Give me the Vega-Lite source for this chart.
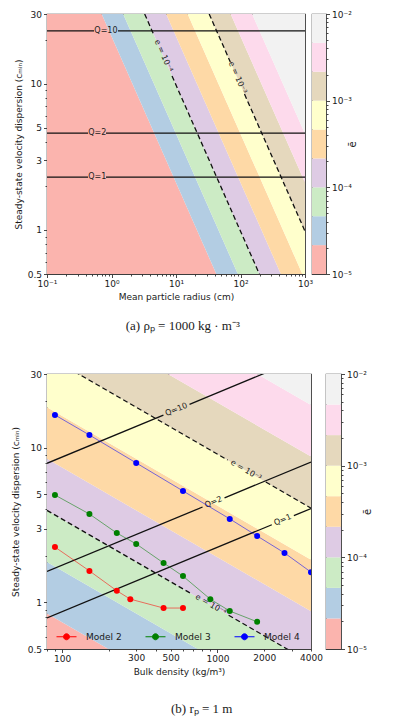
{
  "$schema": "https://vega.github.io/schema/vega-lite/v6.json",
  "background": "white",
  "padding": {"left": 10, "top": 9, "right": 0, "bottom": 0},
  "config": {
    "font": "DejaVu Sans",
    "view": {"stroke": "#3c3c3c", "strokeWidth": 1.2},
    "axis": {
      "domain": false,
      "grid": false,
      "labelFont": "DejaVu Sans",
      "labelFontSize": 9,
      "labelColor": "#1a1a1a",
      "titleFont": "DejaVu Sans",
      "titleFontSize": 9,
      "titleFontWeight": "normal",
      "titleColor": "#1a1a1a",
      "tickColor": "#333333",
      "tickWidth": 0.9,
      "labelFlush": false,
      "labelOverlap": false,
      "labelPadding": 2,
      "titlePadding": 4
    },
    "legend": {"labelFont": "DejaVu Sans", "labelColor": "#1a1a1a"}
  },
  "datasets": {
    "bandsA": [
      {"band": 0, "c": 30, "rlo": 0.001, "rhi": 0.704}, {"band": 0, "c": 0.5, "rlo": 0.001, "rhi": 42.2},
      {"band": 1, "c": 30, "rlo": 0.704, "rhi": 1.517}, {"band": 1, "c": 0.5, "rlo": 42.2, "rhi": 91.0},
      {"band": 2, "c": 30, "rlo": 1.517, "rhi": 3.268}, {"band": 2, "c": 0.5, "rlo": 91.0, "rhi": 196.1},
      {"band": 3, "c": 30, "rlo": 3.268, "rhi": 7.04}, {"band": 3, "c": 0.5, "rlo": 196.1, "rhi": 422.4},
      {"band": 4, "c": 30, "rlo": 7.04, "rhi": 15.17}, {"band": 4, "c": 0.5, "rlo": 422.4, "rhi": 910},
      {"band": 5, "c": 30, "rlo": 15.17, "rhi": 32.68}, {"band": 5, "c": 0.5, "rlo": 910, "rhi": 1961},
      {"band": 6, "c": 30, "rlo": 32.68, "rhi": 70.4}, {"band": 6, "c": 0.5, "rlo": 1961, "rhi": 4224},
      {"band": 7, "c": 30, "rlo": 70.4, "rhi": 151.7}, {"band": 7, "c": 0.5, "rlo": 4224, "rhi": 9102},
      {"band": 8, "c": 30, "rlo": 151.7, "rhi": 1000000}, {"band": 8, "c": 0.5, "rlo": 9102, "rhi": 1000000}
    ],
    "bandsB": [
      {"band": 0, "rho": 80, "clo": 0.001, "chi": 0.848}, {"band": 0, "rho": 4000, "clo": 0.001, "chi": 0.0877},
      {"band": 1, "rho": 80, "clo": 0.848, "chi": 1.827}, {"band": 1, "rho": 4000, "clo": 0.0877, "chi": 0.189},
      {"band": 2, "rho": 80, "clo": 1.827, "chi": 3.937}, {"band": 2, "rho": 4000, "clo": 0.189, "chi": 0.407},
      {"band": 3, "rho": 80, "clo": 3.937, "chi": 8.48}, {"band": 3, "rho": 4000, "clo": 0.407, "chi": 0.877},
      {"band": 4, "rho": 80, "clo": 8.48, "chi": 18.27}, {"band": 4, "rho": 4000, "clo": 0.877, "chi": 1.890},
      {"band": 5, "rho": 80, "clo": 18.27, "chi": 39.37}, {"band": 5, "rho": 4000, "clo": 1.890, "chi": 4.07},
      {"band": 6, "rho": 80, "clo": 39.37, "chi": 84.8}, {"band": 6, "rho": 4000, "clo": 4.07, "chi": 8.77},
      {"band": 7, "rho": 80, "clo": 84.8, "chi": 182.7}, {"band": 7, "rho": 4000, "clo": 8.77, "chi": 18.9},
      {"band": 8, "rho": 80, "clo": 182.7, "chi": 10000}, {"band": 8, "rho": 4000, "clo": 18.9, "chi": 10000}
    ],
    "cbar": [
      {"band": 0, "lo": 0.00001, "hi": 0.00002154},
      {"band": 1, "lo": 0.00002154, "hi": 0.00004642},
      {"band": 2, "lo": 0.00004642, "hi": 0.0001},
      {"band": 3, "lo": 0.0001, "hi": 0.0002154},
      {"band": 4, "lo": 0.0002154, "hi": 0.0004642},
      {"band": 5, "lo": 0.0004642, "hi": 0.001},
      {"band": 6, "lo": 0.001, "hi": 0.002154},
      {"band": 7, "lo": 0.002154, "hi": 0.004642},
      {"band": 8, "lo": 0.004642, "hi": 0.01}
    ],
    "qA": [
      {"seg": "Q10a", "r": 0.1, "c": 23}, {"seg": "Q10a", "r": 0.536, "c": 23},
      {"seg": "Q10b", "r": 1.26, "c": 23}, {"seg": "Q10b", "r": 1000, "c": 23},
      {"seg": "Q2a", "r": 0.1, "c": 4.6}, {"seg": "Q2a", "r": 0.433, "c": 4.6},
      {"seg": "Q2b", "r": 0.822, "c": 4.6}, {"seg": "Q2b", "r": 1000, "c": 4.6},
      {"seg": "Q1a", "r": 0.1, "c": 2.3}, {"seg": "Q1a", "r": 0.433, "c": 2.3},
      {"seg": "Q1b", "r": 0.822, "c": 2.3}, {"seg": "Q1b", "r": 1000, "c": 2.3}
    ],
    "eA": [
      {"seg": "e4a", "r": 3.268, "c": 30}, {"seg": "e4a", "r": 4.60, "c": 21.3},
      {"seg": "e4b", "r": 8.68, "c": 11.3}, {"seg": "e4b", "r": 196.1, "c": 0.5},
      {"seg": "e3a", "r": 32.68, "c": 30}, {"seg": "e3a", "r": 69.5, "c": 14.1},
      {"seg": "e3b", "r": 115.3, "c": 8.5}, {"seg": "e3b", "r": 1961, "c": 0.5}
    ],
    "qLabA": [
      {"text": "Q=10", "r": 0.82, "c": 23},
      {"text": "Q=2", "r": 0.6, "c": 4.6},
      {"text": "Q=1", "r": 0.6, "c": 2.3}
    ],
    "eLabA": [
      {"text": "e = 10⁻⁴", "r": 6.33, "c": 15.5},
      {"text": "e = 10⁻³", "r": 89, "c": 11}
    ],
    "qB": [
      {"seg": "Q10a", "rho": 80, "c": 7.94}, {"seg": "Q10a", "rho": 449, "c": 16.28},
      {"seg": "Q10b", "rho": 661, "c": 19.11}, {"seg": "Q10b", "rho": 4000, "c": 40.4},
      {"seg": "Q2a", "rho": 80, "c": 1.588}, {"seg": "Q2a", "rho": 802, "c": 4.14},
      {"seg": "Q2b", "rho": 1111, "c": 4.75}, {"seg": "Q2b", "rho": 4000, "c": 8.08},
      {"seg": "Q1a", "rho": 80, "c": 0.794}, {"seg": "Q1a", "rho": 2239, "c": 3.18},
      {"seg": "Q1b", "rho": 3103, "c": 3.64}, {"seg": "Q1b", "rho": 4000, "c": 4.04}
    ],
    "eB": [
      {"seg": "e3a", "rho": 80, "c": 39.4}, {"seg": "e3a", "rho": 1164, "c": 8.33},
      {"seg": "e3b", "rho": 2047, "c": 6.01}, {"seg": "e3b", "rho": 4000, "c": 4.07},
      {"seg": "e4a", "rho": 80, "c": 3.937}, {"seg": "e4a", "rho": 691, "c": 1.127},
      {"seg": "e4b", "rho": 1180, "c": 0.826}, {"seg": "e4b", "rho": 4000, "c": 0.407}
    ],
    "qLabB": [
      {"text": "Q=10", "rho": 544, "c": 17.6},
      {"text": "Q=2", "rho": 944, "c": 4.44},
      {"text": "Q=1", "rho": 2637, "c": 3.40}
    ],
    "eLabB": [
      {"text": "e = 10⁻³", "rho": 1521, "c": 7.12},
      {"text": "e = 10⁻⁴", "rho": 904, "c": 0.963}
    ],
    "models": [
      {"model": "Model 2", "rho": 90, "c": 2.28}, {"model": "Model 2", "rho": 150, "c": 1.60},
      {"model": "Model 2", "rho": 225, "c": 1.19}, {"model": "Model 2", "rho": 275, "c": 1.05},
      {"model": "Model 2", "rho": 450, "c": 0.92}, {"model": "Model 2", "rho": 600, "c": 0.92},
      {"model": "Model 3", "rho": 90, "c": 4.95}, {"model": "Model 3", "rho": 150, "c": 3.73},
      {"model": "Model 3", "rho": 225, "c": 2.81}, {"model": "Model 3", "rho": 300, "c": 2.39},
      {"model": "Model 3", "rho": 450, "c": 1.80}, {"model": "Model 3", "rho": 600, "c": 1.48},
      {"model": "Model 3", "rho": 900, "c": 1.05}, {"model": "Model 3", "rho": 1200, "c": 0.88},
      {"model": "Model 3", "rho": 1800, "c": 0.75},
      {"model": "Model 4", "rho": 90, "c": 16.3}, {"model": "Model 4", "rho": 150, "c": 12.1},
      {"model": "Model 4", "rho": 300, "c": 7.98}, {"model": "Model 4", "rho": 600, "c": 5.26},
      {"model": "Model 4", "rho": 1200, "c": 3.47}, {"model": "Model 4", "rho": 1800, "c": 2.69},
      {"model": "Model 4", "rho": 2700, "c": 2.09}, {"model": "Model 4", "rho": 4000, "c": 1.57}
    ]
  },
  "spacing": 35,
  "vconcat": [
    {
      "bounds": "flush",
      "spacing": 7,
      "title": {"text": "(a) ρₚ = 1000 kg · m⁻³", "orient": "bottom", "anchor": "middle", "font": "Liberation Serif", "fontSize": 13, "fontWeight": "normal", "color": "#1a1a1a", "offset": 18, "dx": -3},
      "hconcat": [
        {
          "width": 258,
          "height": 260,
          "encoding": {
            "x": {"field": "r", "type": "quantitative", "scale": {"type": "log", "domain": [0.1, 1000], "nice": false},
              "axis": {"title": "Mean particle radius (cm)",
                "values": [0.1, 0.2, 0.3, 0.4, 0.5, 0.6, 0.7, 0.8, 0.9, 1, 2, 3, 4, 5, 6, 7, 8, 9, 10, 20, 30, 40, 50, 60, 70, 80, 90, 100, 200, 300, 400, 500, 600, 700, 800, 900, 1000],
                "labelExpr": "datum.value == 0.1 ? '10⁻¹' : datum.value == 1 ? '10⁰' : datum.value == 10 ? '10¹' : datum.value == 100 ? '10²' : datum.value == 1000 ? '10³' : ''",
                "tickSize": {"condition": {"test": "indexof([0.1, 1, 10, 100, 1000], datum.value) >= 0", "value": 3.5}, "value": 2}}},
            "y": {"field": "c", "type": "quantitative", "scale": {"type": "log", "domain": [0.5, 30], "nice": false},
              "axis": {"title": "Steady-state velocity dispersion (cₘᵢₙ)",
                "values": [0.5, 0.6, 0.7, 0.8, 0.9, 1, 2, 3, 4, 5, 6, 7, 8, 9, 10, 20, 30],
                "labelExpr": "indexof([0.5, 1, 3, 5, 10, 30], datum.value) >= 0 ? format(datum.value, '~g') : ''",
                "tickSize": {"condition": {"test": "indexof([0.5, 1, 3, 5, 10, 30], datum.value) >= 0", "value": 3.5}, "value": 2}}}
          },
          "layer": [
            {
              "data": {"name": "bandsA"},
              "mark": {"type": "area", "orient": "horizontal", "clip": true},
              "encoding": {
                "x": {"field": "rlo", "type": "quantitative", "stack": null},
                "x2": {"field": "rhi"},
                "fill": {"field": "band", "type": "ordinal", "scale": {"domain": [0, 1, 2, 3, 4, 5, 6, 7, 8], "range": ["#fbb4ae", "#b3cde3", "#ccebc5", "#decbe4", "#fed9a6", "#ffffcc", "#e5d8bd", "#fddaec", "#f2f2f2"]}, "legend": null}
              }
            },
            {
              "data": {"name": "qA"},
              "mark": {"type": "line", "clip": true, "color": "#111111", "strokeWidth": 1.2},
              "encoding": {"detail": {"field": "seg"}}
            },
            {
              "data": {"name": "eA"},
              "mark": {"type": "line", "clip": true, "color": "#111111", "strokeWidth": 1.3, "strokeDash": [5, 3]},
              "encoding": {"detail": {"field": "seg"}}
            },
            {
              "data": {"name": "qLabA"},
              "mark": {"type": "text", "fontSize": 8, "color": "#222222", "align": "center", "baseline": "middle"},
              "encoding": {"text": {"field": "text"}}
            },
            {
              "data": {"name": "eLabA"},
              "mark": {"type": "text", "fontSize": 8, "color": "#222222", "align": "center", "baseline": "middle", "angle": 66.5},
              "encoding": {"text": {"field": "text"}}
            }
          ]
        },
        {
          "width": 14,
          "height": 260,
          "data": {"name": "cbar"},
          "mark": "rect",
          "encoding": {
            "y": {"field": "lo", "type": "quantitative", "scale": {"type": "log", "domain": [0.00001, 0.01], "nice": false},
              "axis": {"orient": "right", "title": "ē", "titleAngle": 270, "titleFontSize": 10, "titlePadding": 6,
                "values": [0.00001, 0.00002, 0.00003, 0.00004, 0.00005, 0.00006, 0.00007, 0.00008, 0.00009, 0.0001, 0.0002, 0.0003, 0.0004, 0.0005, 0.0006, 0.0007, 0.0008, 0.0009, 0.001, 0.002, 0.003, 0.004, 0.005, 0.006, 0.007, 0.008, 0.009, 0.01],
                "labelExpr": "datum.value == 0.00001 ? '10⁻⁵' : datum.value == 0.0001 ? '10⁻⁴' : datum.value == 0.001 ? '10⁻³' : datum.value == 0.01 ? '10⁻²' : ''",
                "tickSize": {"condition": {"test": "indexof([0.00001, 0.0001, 0.001, 0.01], datum.value) >= 0", "value": 3.5}, "value": 2}}},
            "y2": {"field": "hi"},
            "fill": {"field": "band", "type": "ordinal", "scale": {"domain": [0, 1, 2, 3, 4, 5, 6, 7, 8], "range": ["#fbb4ae", "#b3cde3", "#ccebc5", "#decbe4", "#fed9a6", "#ffffcc", "#e5d8bd", "#fddaec", "#f2f2f2"]}, "legend": null}
          }
        }
      ]
    },
    {
      "bounds": "flush",
      "spacing": 15,
      "title": {"text": "(b) rₚ = 1 m", "orient": "bottom", "anchor": "middle", "font": "Liberation Serif", "fontSize": 13, "fontWeight": "normal", "color": "#1a1a1a", "offset": 26, "dx": 10},
      "hconcat": [
        {
          "width": 264,
          "height": 275,
          "encoding": {
            "x": {"field": "rho", "type": "quantitative", "scale": {"type": "log", "domain": [80, 4000], "nice": false},
              "axis": {"title": "Bulk density (kg/m³)",
                "values": [80, 90, 100, 200, 300, 400, 500, 600, 700, 800, 900, 1000, 2000, 3000, 4000],
                "labelExpr": "indexof([100, 300, 500, 1000, 2000, 4000], datum.value) >= 0 ? format(datum.value, 'd') : ''",
                "tickSize": {"condition": {"test": "indexof([100, 1000], datum.value) >= 0", "value": 3.5}, "value": 2}}},
            "y": {"field": "c", "type": "quantitative", "scale": {"type": "log", "domain": [0.5, 30], "nice": false},
              "axis": {"title": "Steady-state velocity dispersion (cₘᵢₙ)", "titlePadding": 7,
                "values": [0.5, 0.6, 0.7, 0.8, 0.9, 1, 2, 3, 4, 5, 6, 7, 8, 9, 10, 20, 30],
                "labelExpr": "indexof([0.5, 1, 3, 5, 10, 30], datum.value) >= 0 ? format(datum.value, '~g') : ''",
                "tickSize": {"condition": {"test": "indexof([0.5, 1, 3, 5, 10, 30], datum.value) >= 0", "value": 3.5}, "value": 2}}}
          },
          "layer": [
            {
              "data": {"name": "bandsB"},
              "mark": {"type": "area", "orient": "vertical", "clip": true},
              "encoding": {
                "y": {"field": "clo", "type": "quantitative", "stack": null},
                "y2": {"field": "chi"},
                "fill": {"field": "band", "type": "ordinal", "scale": {"domain": [0, 1, 2, 3, 4, 5, 6, 7, 8], "range": ["#fbb4ae", "#b3cde3", "#ccebc5", "#decbe4", "#fed9a6", "#ffffcc", "#e5d8bd", "#fddaec", "#f2f2f2"]}, "legend": null}
              }
            },
            {
              "data": {"name": "qB"},
              "mark": {"type": "line", "clip": true, "color": "#111111", "strokeWidth": 1.3},
              "encoding": {"detail": {"field": "seg"}}
            },
            {
              "data": {"name": "eB"},
              "mark": {"type": "line", "clip": true, "color": "#111111", "strokeWidth": 1.3, "strokeDash": [5, 3]},
              "encoding": {"detail": {"field": "seg"}}
            },
            {
              "data": {"name": "qLabB"},
              "mark": {"type": "text", "fontSize": 8, "color": "#222222", "align": "center", "baseline": "middle", "angle": -22.5},
              "encoding": {"text": {"field": "text"}}
            },
            {
              "data": {"name": "eLabB"},
              "mark": {"type": "text", "fontSize": 8, "color": "#222222", "align": "center", "baseline": "middle", "angle": 30},
              "encoding": {"text": {"field": "text"}}
            },
            {
              "data": {"name": "models"},
              "mark": {"type": "line", "clip": true, "strokeWidth": 0.9, "strokeOpacity": 0.6},
              "encoding": {
                "stroke": {"field": "model", "type": "nominal", "scale": {"domain": ["Model 2", "Model 3", "Model 4"], "range": ["#ff0000", "#008000", "#0000ff"]},
                  "legend": {"orient": "none", "legendX": 9, "legendY": 612, "direction": "horizontal", "title": null,
                    "symbolType": "M-1,0H-0.3M0.3,0H1M-0.3,0A0.3,0.3 0 1,0 0.3,0A0.3,0.3 0 1,0 -0.3,0Z",
                    "symbolSize": 400, "symbolStrokeWidth": 1, "labelFontSize": 9, "labelOffset": 9, "columnPadding": 21}}
              }
            },
            {
              "data": {"name": "models"},
              "mark": {"type": "point", "shape": "circle", "filled": true, "opacity": 1, "size": 36, "clip": true},
              "encoding": {
                "color": {"field": "model", "type": "nominal", "scale": {"domain": ["Model 2", "Model 3", "Model 4"], "range": ["#ff0000", "#008000", "#0000ff"]},
                  "legend": {"orient": "none", "legendX": 9, "legendY": 612, "direction": "horizontal", "title": null,
                    "symbolType": "M-1,0H-0.3M0.3,0H1M-0.3,0A0.3,0.3 0 1,0 0.3,0A0.3,0.3 0 1,0 -0.3,0Z",
                    "symbolSize": 400, "symbolStrokeWidth": 1, "labelFontSize": 9, "labelOffset": 9, "columnPadding": 21}}
              }
            }
          ]
        },
        {
          "width": 15,
          "height": 275,
          "data": {"name": "cbar"},
          "mark": "rect",
          "encoding": {
            "y": {"field": "lo", "type": "quantitative", "scale": {"type": "log", "domain": [0.00001, 0.01], "nice": false},
              "axis": {"orient": "right", "title": "ē", "titleAngle": 270, "titleFontSize": 10, "titlePadding": 6,
                "values": [0.00001, 0.00002, 0.00003, 0.00004, 0.00005, 0.00006, 0.00007, 0.00008, 0.00009, 0.0001, 0.0002, 0.0003, 0.0004, 0.0005, 0.0006, 0.0007, 0.0008, 0.0009, 0.001, 0.002, 0.003, 0.004, 0.005, 0.006, 0.007, 0.008, 0.009, 0.01],
                "labelExpr": "datum.value == 0.00001 ? '10⁻⁵' : datum.value == 0.0001 ? '10⁻⁴' : datum.value == 0.001 ? '10⁻³' : datum.value == 0.01 ? '10⁻²' : ''",
                "tickSize": {"condition": {"test": "indexof([0.00001, 0.0001, 0.001, 0.01], datum.value) >= 0", "value": 3.5}, "value": 2}}},
            "y2": {"field": "hi"},
            "fill": {"field": "band", "type": "ordinal", "scale": {"domain": [0, 1, 2, 3, 4, 5, 6, 7, 8], "range": ["#fbb4ae", "#b3cde3", "#ccebc5", "#decbe4", "#fed9a6", "#ffffcc", "#e5d8bd", "#fddaec", "#f2f2f2"]}, "legend": null}
          }
        }
      ]
    }
  ]
}
